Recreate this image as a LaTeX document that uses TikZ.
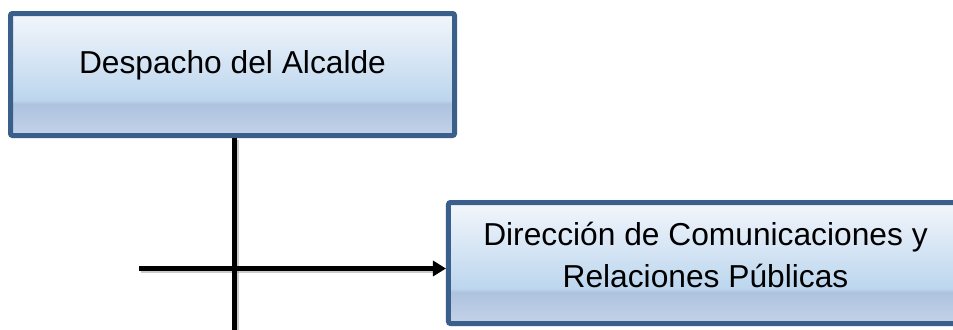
\documentclass[tikz,border=0pt]{standalone}
\usepackage{fontspec}
\setmainfont{Liberation Sans}
\usetikzlibrary{arrows.meta,shadows}
\definecolor{bordc}{HTML}{3A5F8B}
\definecolor{topc}{HTML}{F3F6FB}
\definecolor{midc}{HTML}{BCD6EE}
\definecolor{bandc}{HTML}{AEC3DF}
\definecolor{botc}{HTML}{C3D2E8}
\pgfdeclareverticalshading{boxshade}{100bp}{color(0bp)=(botc); color(25bp)=(botc); color(38bp)=(bandc); color(39.5bp)=(midc); color(75bp)=(topc); color(100bp)=(topc)}
\begin{document}
\begin{tikzpicture}[x=0.75pt,y=-0.75pt,
  orgbox/.style={draw=bordc, line width=3.75pt, shading=boxshade, rounded corners=1.5pt, inner sep=0pt,
    drop shadow={shadow xshift=1.2pt, shadow yshift=-1.2pt, opacity=0.2, fill=black}},
  boxtext/.style={font=\fontsize{23.8pt}{28pt}\selectfont, inner sep=0pt, anchor=base, text=black},
  conn/.style={line width=3.75pt, black},
  connshadow/.style={line width=3.75pt, black!40, opacity=0.5}]
\clip (0,0) rectangle (953,329);
\fill[white] (0,0) rectangle (953,329);
\node[orgbox, minimum width=333pt, minimum height=91.5pt] (alc) at (232.5,74.5) {};
\node[orgbox, minimum width=385.9pt, minimum height=90.75pt] (dir) at (705.75,263) {};
\node[boxtext] (talc) at (232.5,73) {Despacho del Alcalde};
\node[boxtext] (tdir1) at (705.5,245) {Dirección de Comunicaciones y};
\node[boxtext] (tdir2) at (705.5,287) {Relaciones Públicas};
\coordinate (vend) at (234,335);
\coordinate (hstart) at (139,268.5);
\draw[connshadow] ([xshift=1.5pt,yshift=-1.5pt]alc.south -| vend) -- ([xshift=1.5pt,yshift=-1.5pt]vend);
\draw[connshadow] ([xshift=1.5pt,yshift=-1.5pt]hstart) -- ([xshift=-8pt,yshift=-1.5pt]hstart -| dir.west);
\draw[conn] (alc.south -| vend) -- (vend);
\draw[conn,-{Triangle[length=9.75pt,width=11.25pt]}] (hstart) -- (hstart -| dir.west);
\end{tikzpicture}
\end{document}
